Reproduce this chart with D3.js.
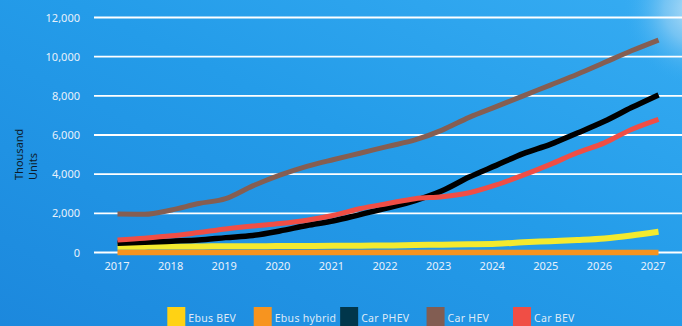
<!DOCTYPE html>
<html>
<head>
<meta charset="utf-8">
<script src="https://cdn.jsdelivr.net/npm/d3@7"></script>
<style>
  html, body { margin: 0; padding: 0; background: #1f93e3; }
  svg { display: block; }
  text { font-family: "Noto Sans", "Open Sans", sans-serif; }
</style>
</head>
<body>
<svg id="chart" width="682" height="326"></svg>
<script>
// Half-year sample points, 2017 to 2027
const periods = [2017, 2017.5, 2018, 2018.5, 2019, 2019.5, 2020, 2020.5, 2021, 2021.5,
                 2022, 2022.5, 2023, 2023.5, 2024, 2024.5, 2025, 2025.5, 2026, 2026.5, 2027];

// Thousand units
const ebusBEV    = [300, 300, 310, 310, 320, 320, 330, 330, 340, 350,
                    360, 380, 400, 420, 450, 520, 580, 640, 720, 870, 1060];
const ebusHybrid = [0, 0, 0, 0, 0, 0, 0, 0, 0, 0,
                    0, 0, 0, 0, 0, 0, 0, 0, 0, 0, 0];
const carPHEV    = [470, 520, 580, 640, 760, 870, 1100, 1380, 1620, 1950,
                    2280, 2650, 3150, 3850, 4450, 5050, 5520, 6100, 6700, 7400, 8050];
const carHEV     = [1960, 1950, 2170, 2500, 2750, 3400, 3950, 4400, 4750, 5080,
                    5420, 5750, 6250, 6900, 7450, 8000, 8550, 9100, 9700, 10300, 10850];
const carBEV     = [640, 730, 850, 1020, 1200, 1350, 1480, 1650, 1900, 2250,
                    2500, 2750, 2850, 3050, 3450, 3950, 4500, 5100, 5600, 6280, 6800];

const seriesNames = ["Ebus BEV", "Ebus hybrid", "Car PHEV", "Car HEV", "Car BEV"];
const yTicks = [0, 2000, 4000, 6000, 8000, 10000, 12000];
const xTickLabels = ["2017", "2018", "2019", "2020", "2021", "2022", "2023", "2024", "2025", "2026", "2027"];

const series = [
  { name: seriesNames[0], values: ebusBEV,    line: "#f4ea2e", key: "#ffd214", width: 6 },
  { name: seriesNames[1], values: ebusHybrid, line: "#f7931e", key: "#f7941f", width: 5.5 },
  { name: seriesNames[2], values: carPHEV,    line: "#000000", key: "#01364b", width: 5.5 },
  { name: seriesNames[3], values: carHEV,     line: "#855e52", key: "#825d52", width: 5 },
  { name: seriesNames[4], values: carBEV,     line: "#f04e45", key: "#f04e45", width: 5 }
];

const svg = d3.select("#chart");
const W = 682, H = 326;

// Background: blue gradient with a soft light in the upper right corner
const defs = svg.append("defs");
const bg = defs.append("linearGradient").attr("id", "bg")
  .attr("x1", "0").attr("y1", "1").attr("x2", "1").attr("y2", "0");
bg.append("stop").attr("offset", "0").attr("stop-color", "#1c88dd");
bg.append("stop").attr("offset", "0.55").attr("stop-color", "#249ce9");
bg.append("stop").attr("offset", "1").attr("stop-color", "#36acf2");
const glow = defs.append("radialGradient").attr("id", "glow")
  .attr("gradientUnits", "userSpaceOnUse")
  .attr("cx", 698).attr("cy", 10).attr("r", 75);
glow.append("stop").attr("offset", "0").attr("stop-color", "#d9eefa").attr("stop-opacity", 0.85);
glow.append("stop").attr("offset", "0.45").attr("stop-color", "#aad8f5").attr("stop-opacity", 0.55);
glow.append("stop").attr("offset", "1").attr("stop-color", "#36acf2").attr("stop-opacity", 0);

svg.append("rect").attr("width", W).attr("height", H).attr("fill", "url(#bg)");
svg.append("rect").attr("width", W).attr("height", H).attr("fill", "url(#glow)");

// Scales
const y = d3.scaleLinear().domain([0, 12000]).range([252.5, 17.5]);
const x = d3.scaleLinear().domain([2017, 2027]).range([117.5, 658.5]);
const xLabel = d3.scaleLinear().domain([2017, 2027]).range([116.5, 652.5]);

// Gridlines
svg.append("g").selectAll("line").data(yTicks).join("line")
  .attr("x1", 94).attr("x2", W)
  .attr("y1", d => y(d)).attr("y2", d => y(d))
  .attr("stroke", "#ffffff").attr("stroke-width", 1.8);

// Y axis labels
const yAxis = d3.axisLeft(y).tickValues(yTicks).tickFormat(d3.format(",")).tickSize(0).tickPadding(0);
const gy = svg.append("g").attr("transform", "translate(80,0)").call(yAxis);
gy.select(".domain").remove();
gy.selectAll("text").attr("fill", "#e8f1fb").attr("font-size", 11)
  .attr("font-family", "'Noto Sans', sans-serif");

// X axis labels
const xAxis = d3.axisBottom(xLabel).tickValues(d3.range(2017, 2028))
  .tickFormat((d, i) => xTickLabels[i]).tickSize(0).tickPadding(0);
const gx = svg.append("g").attr("transform", "translate(0,262)").call(xAxis);
gx.select(".domain").remove();
gx.selectAll("text").attr("fill", "#e8f1fb").attr("font-size", 11)
  .attr("font-family", "'Noto Sans', sans-serif");

// Axis title
const title = svg.append("text")
  .attr("transform", "translate(23,180) rotate(-90)")
  .attr("fill", "#0d1b2a").attr("font-size", 11);
title.append("tspan").attr("x", 0).attr("dy", 0).text("Thousand");
title.append("tspan").attr("x", 0).attr("dy", 14).text("Units");

// Series lines
const line = d3.line()
  .x((d, i) => x(periods[i]))
  .y(d => y(d))
  .curve(d3.curveMonotoneX);

svg.append("g").selectAll("path").data(series).join("path")
  .attr("d", d => line(d.values))
  .attr("fill", "none")
  .attr("stroke", d => d.line)
  .attr("stroke-width", d => d.width)
  .attr("stroke-linecap", "butt")
  .attr("stroke-linejoin", "round");

// Legend
const legendX = d3.scalePoint().domain(seriesNames).range([167.3, 513]);
const lg = svg.append("g").selectAll("g").data(series).join("g")
  .attr("transform", d => `translate(${legendX(d.name)},307)`);
lg.append("rect").attr("width", 18).attr("height", 19).attr("fill", d => d.key);
lg.append("text").attr("x", 21).attr("y", 15)
  .attr("fill", "#dfeaf6").attr("font-size", 10.5)
  .attr("letter-spacing", 0.3)
  .text(d => d.name);
</script>
</body>
</html>
